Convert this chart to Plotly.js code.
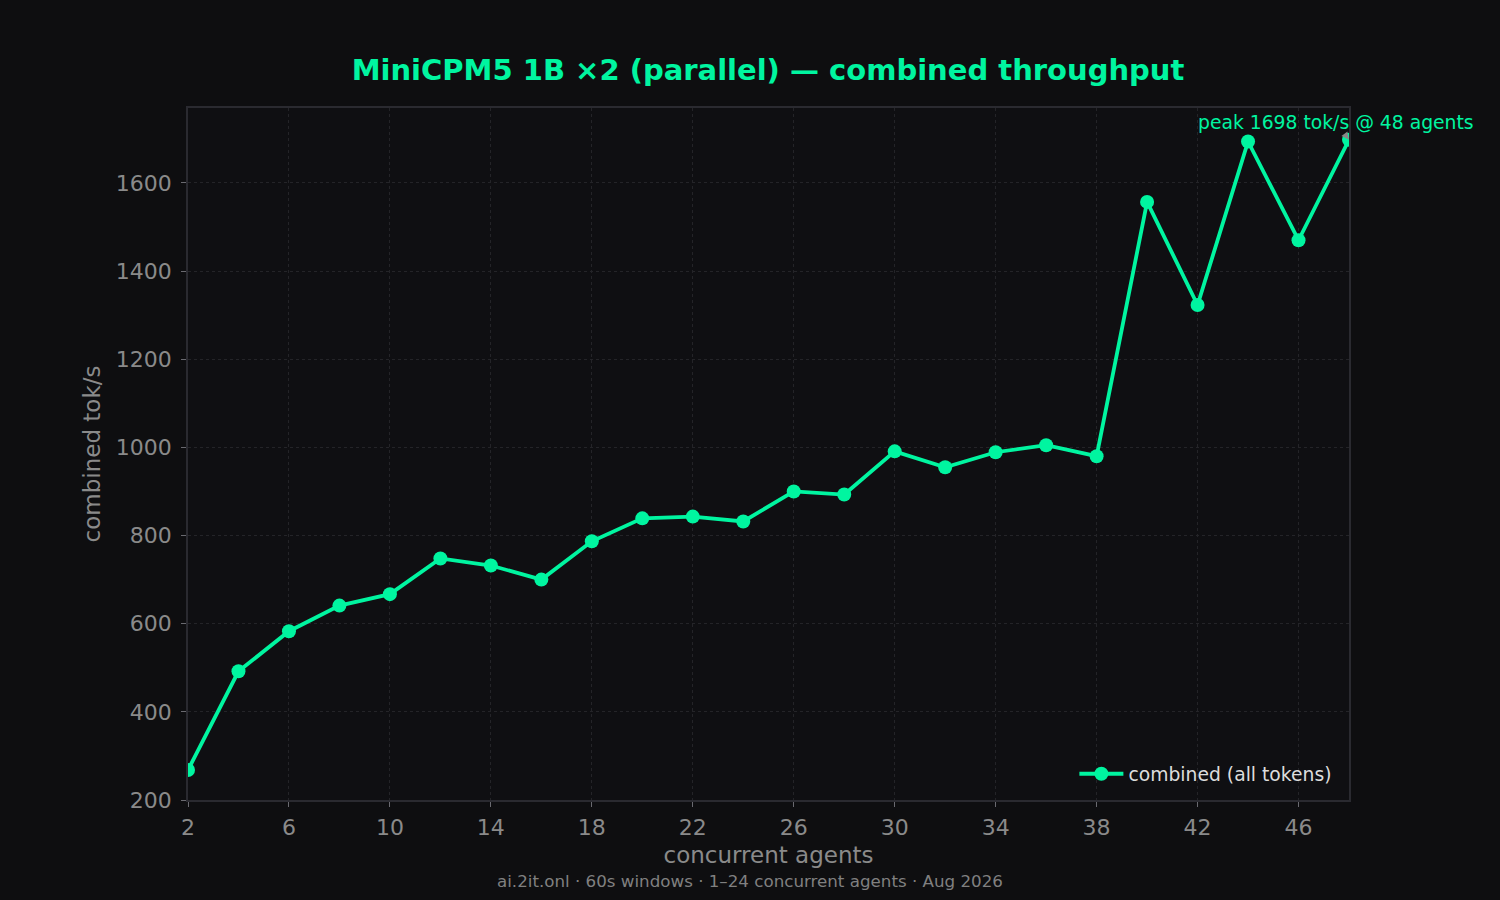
<!DOCTYPE html>
<html>
<head>
<meta charset="utf-8">
<script src="https://cdn.plot.ly/plotly-3.0.1.min.js"></script>
<style>
  html, body { margin: 0; padding: 0; background: #0e0e10; }
  #chart { width: 1500px; height: 900px; }
</style>
</head>
<body>
<div id="chart"></div>
<script>
const agents = [2, 4, 6, 8, 10, 12, 14, 16, 18, 20, 22, 24, 26, 28, 30, 32, 34, 36, 38, 40, 42, 44, 46, 48];
const combined = [268, 492, 583, 641, 667, 748, 732, 700, 787, 839, 843, 832, 900, 893, 991, 955, 989, 1005, 980, 1557, 1323, 1694, 1470, 1698];
const xTicks = [2, 6, 10, 14, 18, 22, 26, 30, 34, 38, 42, 46];
const yTicks = [200, 400, 600, 800, 1000, 1200, 1400, 1600];

const green = '#00f5a0';
const muted = '#8a8a8a';
const font = 'DejaVu Sans, sans-serif';

// peak point for the annotation
let peakIdx = 0;
for (let i = 0; i < combined.length; i++) {
	if (combined[i] > combined[peakIdx]) peakIdx = i;
}

const data = [{
	x: agents,
	y: combined,
	mode: 'lines+markers',
	name: 'combined (all tokens)',
	line: {color: green, width: 3.8},
	marker: {color: green, size: 14},
	cliponaxis: true
}];

const axisCommon = {
	showline: true,
	mirror: true,
	linecolor: '#2a2a30',
	linewidth: 1.5,
	showgrid: true,
	gridcolor: '#242428',
	griddash: 'dot',
	gridwidth: 1,
	zeroline: false,
	ticks: 'outside',
	ticklen: 5,
	tickwidth: 1.2,
	tickcolor: '#6a6a70',
	tickfont: {family: font, size: 22, color: muted}
};

const layout = {
	width: 1500,
	height: 900,
	paper_bgcolor: '#0e0e10',
	plot_bgcolor: '#0f0f12',
	margin: {l: 188, r: 151, t: 108, b: 100},
	title: {
		text: '<b>MiniCPM5 1B ×2 (parallel) — combined throughput</b>',
		font: {family: font, size: 29, color: green},
		x: 0.512, xanchor: 'center',
		y: 1 - 70 / 900, yref: 'container', yanchor: 'middle'
	},
	xaxis: Object.assign({}, axisCommon, {
		range: [2, 48],
		tickvals: xTicks,
		ticklabelstandoff: 2,
		title: {text: 'concurrent agents', font: {family: font, size: 23, color: muted}, standoff: 8}
	}),
	yaxis: Object.assign({}, axisCommon, {
		range: [200, 1770],
		tickvals: yTicks,
		ticklabelstandoff: 5,
		title: {text: 'combined tok/s', font: {family: font, size: 23, color: muted}, standoff: 9}
	}),
	showlegend: true,
	legend: {
		x: 0.99, xanchor: 'right',
		y: 0.01, yanchor: 'bottom',
		bgcolor: 'rgba(0,0,0,0)',
		itemwidth: 44,
		font: {family: font, size: 18.75, color: '#dddddd'}
	},
	annotations: [{
		x: agents[peakIdx],
		y: combined[peakIdx],
		xref: 'x', yref: 'y',
		text: 'peak ' + combined[peakIdx] + ' tok/s @ ' + agents[peakIdx] + ' agents',
		showarrow: true,
		arrowhead: 2,
		arrowsize: 1,
		arrowwidth: 1.5,
		arrowcolor: '#888888',
		ax: -13, ay: -17,
		font: {family: font, size: 18.75, color: green}
	}, {
		x: (750 - 188) / 1161,
		y: (800 - 881) / 692,
		xref: 'paper', yref: 'paper',
		xanchor: 'center', yanchor: 'middle',
		showarrow: false,
		text: 'ai.2it.onl · 60s windows · 1–24 concurrent agents · Aug 2026',
		font: {family: font, size: 16.7, color: '#808080'}
	}]
};

Plotly.newPlot('chart', data, layout, {displayModeBar: false});
</script>
</body>
</html>
